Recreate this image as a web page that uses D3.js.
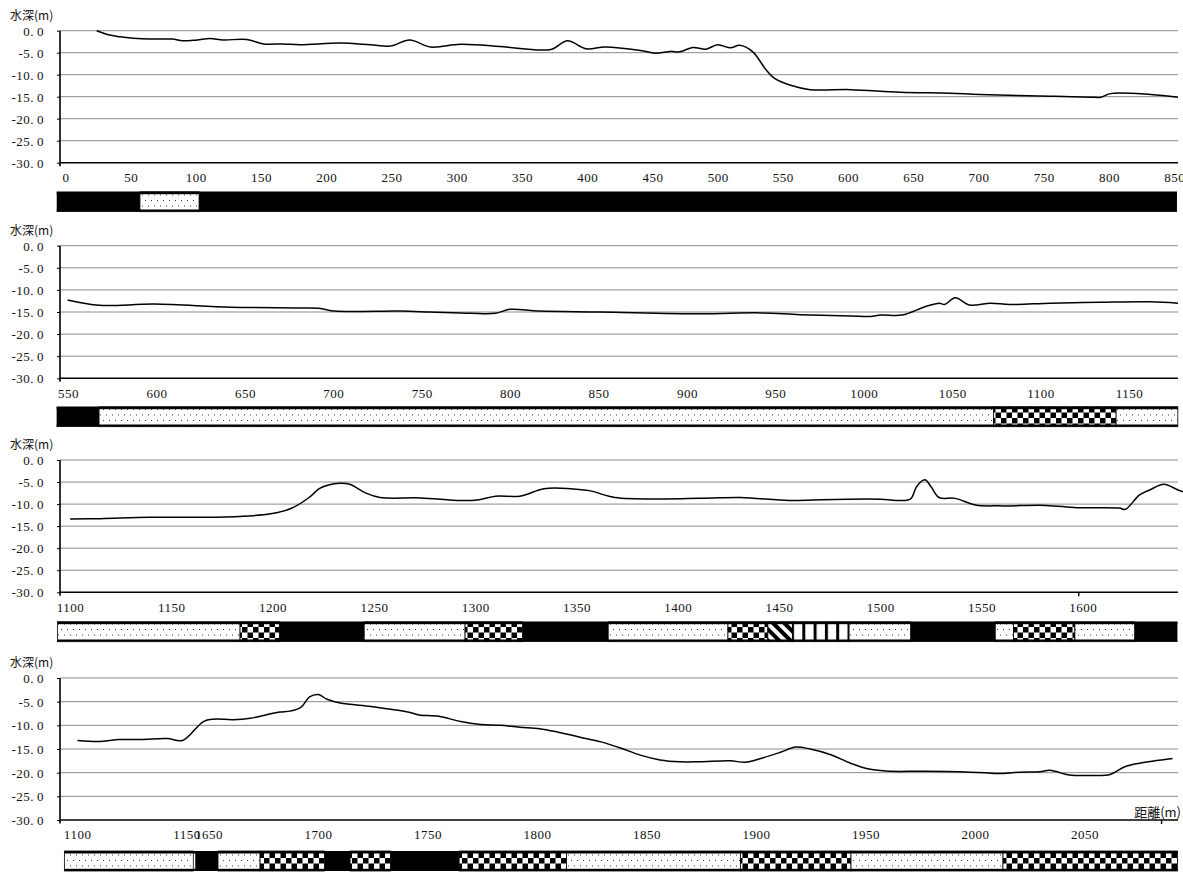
<!DOCTYPE html>
<html><head><meta charset="utf-8">
<script src="https://cdn.jsdelivr.net/npm/d3@7"></script>
<style>
body{margin:0;background:#fff}
svg{display:block}
.num{font-family:"Liberation Serif","Times New Roman",serif;font-size:13px;letter-spacing:0.5px;fill:#111}
.cjk{font-family:"Noto Sans CJK JP",sans-serif;font-size:12px;fill:#111}
</style>
</head><body>
<svg id="c" width="1183" height="872"></svg>
<script>
// ---------- data ----------
const yTicks = [0, -5, -10, -15, -20, -25, -30];
const yTickLabels = ["0.0", "-5.0", "-10.0", "-15.0", "-20.0", "-25.0", "-30.0"];
const yTitle = "水深(m)";
const xTitle = "距離(m)";

const p1Ticks = [0,50,100,150,200,250,300,350,400,450,500,550,600,650,700,750,800,850];
const p2Ticks = [550,600,650,700,750,800,850,900,950,1000,1050,1100,1150];
const p3Ticks = [1100,1150,1200,1250,1300,1350,1400,1450,1500,1550,1600];
const p4Ticks = [1100,1150,1650,1700,1750,1800,1850,1900,1950,2000,2050];

const p1Dist  = [27,37,45,55,68,85,93,104,114,124,142,155,170,183,214,237,252,267,283,306,336,367,376,388,402,417,444,455,467,474,484,494,503,513,520,530,540,547,559,574,605,643,681,704,758,789,797,804,835,856];
const p1Depth = [0,-1.0,-1.4,-1.7,-1.9,-1.9,-2.3,-2.1,-1.8,-2.1,-2.0,-3.0,-3.0,-3.2,-2.8,-3.2,-3.5,-2.1,-3.7,-3.1,-3.6,-4.4,-4.2,-2.3,-4.1,-3.7,-4.5,-5.1,-4.7,-4.8,-3.8,-4.2,-3.2,-3.9,-3.3,-4.8,-8.8,-10.9,-12.4,-13.4,-13.4,-14.0,-14.2,-14.5,-14.9,-15.1,-15.1,-14.3,-14.5,-15.1];

const p2Dist  = [552,570,601,644,683,695,703,740,757,780,794,802,819,853,910,944,966,995,1006,1012,1024,1037,1045,1048,1054,1062,1074,1085,1108,1136,1164,1180];
const p2Depth = [-12.3,-13.5,-13.2,-13.9,-14.1,-14.2,-14.8,-14.8,-15.0,-15.3,-15.3,-14.4,-14.8,-15.0,-15.4,-15.2,-15.6,-15.9,-16.0,-15.7,-15.7,-13.8,-13.0,-13.3,-11.8,-13.4,-13.0,-13.3,-13.0,-12.8,-12.7,-13.0];

const p3Dist  = [1102,1117,1141,1166,1186,1201,1211,1220,1225,1230,1235,1240,1248,1255,1275,1295,1304,1312,1324,1336,1349,1359,1371,1413,1433,1457,1472,1502,1512,1517,1520,1524,1527,1531,1539,1549,1561,1584,1599,1620,1623,1630,1635,1642,1649,1651.5];
const p3Depth = [-13.4,-13.3,-13.0,-13.0,-12.8,-12.2,-11.0,-8.5,-6.5,-5.6,-5.3,-5.5,-7.5,-8.5,-8.6,-9.2,-9.0,-8.2,-8.2,-6.5,-6.5,-7.0,-8.5,-8.7,-8.5,-9.2,-9.0,-8.9,-9.2,-8.8,-6.0,-4.5,-6.0,-8.5,-8.7,-10.2,-10.4,-10.3,-10.8,-10.9,-11.2,-7.9,-6.8,-5.5,-6.8,-7.2];

const p4Dist  = [1102,1112,1121,1131,1143,1150,1649.5,1654,1663,1671,1678,1684.5,1689,1694,1698,1702,1706,1712,1726,1735,1744,1748,1757,1767,1776,1785,1794,1803,1812,1821.5,1831,1840,1849,1858,1867,1876,1890,1897,1904,1913,1920,1926.5,1936,1945,1954,1963,1977,1995,2009,2013,2022,2031.5,2036,2045,2054,2063.5,2070,2077,2092];
const p4Depth = [-13.2,-13.4,-13.0,-13.0,-12.8,-13.2,-9.2,-8.7,-8.8,-8.5,-7.8,-7.2,-7.0,-6.2,-4.0,-3.5,-4.5,-5.3,-6.0,-6.6,-7.3,-7.8,-8.1,-9.2,-9.8,-10.0,-10.4,-10.7,-11.5,-12.5,-13.5,-14.8,-16.3,-17.3,-17.7,-17.7,-17.5,-17.8,-17.0,-15.7,-14.6,-15.0,-16.2,-18.0,-19.3,-19.7,-19.7,-19.8,-20.1,-20.2,-19.9,-19.8,-19.5,-20.5,-20.6,-20.4,-18.8,-18.0,-17.0];

// soil strips: [start, end, type]
const p1Strip = [[-3.6,60.2,"black"],[60.2,105.5,"sand"],[105.5,855.2,"black"]];
const p2Strip = [[545.8,569.8,"black"],[569.8,1075.6,"sand"],[1075.6,1145,"check"],[1145,1179.9,"sand"]];
const p3Strip = [[1095.7,1185.9,"sand"],[1185.9,1205.3,"check"],[1205.3,1247.2,"black"],[1247.2,1297,"sand"],[1297,1325.3,"check"],[1325.3,1367.7,"black"],[1367.7,1426.8,"sand"],[1426.8,1446.5,"check"],[1446.5,1458.6,"diag"],[1458.6,1486.6,"vert"],[1486.6,1517,"sand"],[1517,1558.8,"black"],[1558.8,1567.8,"sand"],[1567.8,1598.1,"check"],[1598.1,1627.6,"sand"],[1627.6,1648.7,"black"]];
const p4Strip = [[1096,1154.9,"sand"],[1645.8,1656.2,"black"],[1656.2,1675.4,"sand"],[1675.4,1704.8,"check"],[1704.8,1716.5,"black"],[1716.5,1734.9,"check"],[1734.9,1766.3,"black"],[1766.3,1815.3,"check"],[1815.3,1894.7,"sand"],[1894.7,1945.2,"check"],[1945.2,2014.6,"sand"],[2014.6,2094.3,"check"]];

// ---------- drawing ----------
const svg = d3.select("#c");
const defs = svg.append("defs");

const pSand = defs.append("pattern").attr("id","sand").attr("patternUnits","userSpaceOnUse").attr("width",6).attr("height",11);
pSand.append("rect").attr("width",6).attr("height",11).attr("fill","#fff");
pSand.append("rect").attr("x",1).attr("y",2).attr("width",1).attr("height",1).attr("fill","#333");
pSand.append("rect").attr("x",4).attr("y",7.5).attr("width",1).attr("height",1).attr("fill","#333");

const pCheck = defs.append("pattern").attr("id","check").attr("patternUnits","userSpaceOnUse").attr("width",11).attr("height",11);
pCheck.append("rect").attr("width",11).attr("height",11).attr("fill","#fff");
pCheck.append("rect").attr("width",5.5).attr("height",5.5).attr("fill","#000");
pCheck.append("rect").attr("x",5.5).attr("y",5.5).attr("width",5.5).attr("height",5.5).attr("fill","#000");

const pDiag = defs.append("pattern").attr("id","diag").attr("patternUnits","userSpaceOnUse").attr("width",8).attr("height",8).attr("patternTransform","rotate(-45)");
pDiag.append("rect").attr("width",8).attr("height",8).attr("fill","#fff");
pDiag.append("rect").attr("width",4).attr("height",8).attr("fill","#000");

const pVert = defs.append("pattern").attr("id","vert").attr("patternUnits","userSpaceOnUse").attr("width",11.3).attr("height",10);
pVert.append("rect").attr("width",11.3).attr("height",10).attr("fill","#fff");
pVert.append("rect").attr("width",3).attr("height",10).attr("fill","#000");

const L = 60, R = 1178;

const panels = [
  {top:30.7, bottom:162.7, x:d3.scaleLinear().domain([-1.1,856]).range([L,R]), ticks:p1Ticks, dist:p1Dist, depth:p1Depth, strip:p1Strip, stripTop:191.7, axTick:null},
  {top:245.7, bottom:378.3, x:d3.scaleLinear().domain([547.7,1180]).range([L,R]), ticks:p2Ticks, dist:p2Dist, depth:p2Depth, strip:p2Strip, stripTop:406.7, axTick:null},
  {top:460, bottom:592.3, x:d3.scaleLinear().domain([1097,1649]).range([L,R]), ticks:p3Ticks, dist:p3Dist, depth:p3Depth, strip:p3Strip, stripTop:621.7, axTick:1600},
  {top:678, bottom:820, x:d3.scaleLinear().domain([1094,1155,1645,2094.5]).range([L,193.5,193.5,R]), ticks:p4Ticks, dist:p4Dist, depth:p4Depth, strip:p4Strip, stripTop:851, axTick:2087, xTitle:true}
];

// write "0.0" as "0." + gap + "0" (monospaced Mincho look)
function splitNum(sel, str) {
  const k = str.indexOf(".");
  sel.text(null);
  if (k < 0) { sel.text(str); return; }
  sel.append("tspan").text(str.slice(0,k+1));
  sel.append("tspan").attr("dx",3).text(str.slice(k+1));
}

panels.forEach((p,i) => {
  const g = svg.append("g");
  const y = d3.scaleLinear().domain([0,-30]).range([p.top,p.bottom]);

  g.append("text").attr("class","cjk").attr("x",10).attr("y",p.top-11).text(yTitle);

  g.selectAll(".grid").data(yTicks.slice(0,-1)).join("line")
    .attr("x1",L).attr("x2",R).attr("y1",d=>y(d)).attr("y2",d=>y(d))
    .attr("stroke","#8a8a8a").attr("stroke-width",1);

  const yAxis = d3.axisLeft(y).tickValues(yTicks).tickSize(3).tickFormat((d,j)=>yTickLabels[j]);
  const ya = g.append("g").attr("transform",`translate(${L},0)`).call(yAxis);
  ya.select(".domain").remove();
  ya.attr("font-family",null).attr("font-size",null);
  ya.selectAll(".tick line").attr("stroke","#000");
  ya.selectAll(".tick text").attr("class","num").attr("x",-16).attr("dy","0.35em")
    .each(function(d,j){ splitNum(d3.select(this), yTickLabels[j]); });

  g.append("line").attr("x1",L).attr("x2",R).attr("y1",p.bottom).attr("y2",p.bottom).attr("stroke","#000").attr("stroke-width",1.6);
  g.append("line").attr("x1",L).attr("x2",L).attr("y1",p.top).attr("y2",p.bottom+3.5).attr("stroke","#000").attr("stroke-width",1.6);
  if (p.axTick!==null) {
    g.append("line").attr("x1",p.x(p.axTick)).attr("x2",p.x(p.axTick)).attr("y1",p.bottom).attr("y2",p.bottom+4).attr("stroke","#000").attr("stroke-width",1.4);
  }

  const xAxis = d3.axisBottom(p.x).tickValues(p.ticks).tickSize(0).tickFormat(d3.format("d"));
  const xa = g.append("g").attr("transform",`translate(0,${p.bottom})`).call(xAxis);
  xa.select(".domain").remove();
  xa.attr("font-family",null).attr("font-size",null);
  xa.selectAll(".tick text").attr("class","num").attr("dx",4).attr("y",10).attr("dy","0.71em");

  const lineData = p.dist.map((d,j)=>[d,p.depth[j]]);
  g.append("path").datum(lineData)
    .attr("fill","none").attr("stroke","#000").attr("stroke-width",1.5)
    .attr("d", d3.line().x(d=>p.x(d[0])).y(d=>y(d[1])).curve(d3.curveCatmullRom.alpha(0.5)));

  if (p.xTitle) {
    g.append("text").attr("class","cjk").style("font-size","13px").attr("x",1181).attr("y",p.bottom-3).attr("text-anchor","end").text(xTitle);
  }

  const st = p.stripTop, sb = st+20;
  const sg = g.append("g");
  p.strip.forEach(s => {
    const x0 = p.x(s[0]), x1 = p.x(s[1]);
    if (s[2]==="black") {
      sg.append("rect").attr("x",x0).attr("y",st).attr("width",x1-x0).attr("height",sb-st).attr("fill","#000");
    } else {
      sg.append("rect").attr("x",x0).attr("y",st).attr("width",x1-x0).attr("height",sb-st).attr("fill",`url(#${s[2]})`)
        .attr("stroke","#000").attr("stroke-width",0.8);
    }
  });
  const sx0 = p.x(p.strip[0][0]), sx1 = p.x(p.strip[p.strip.length-1][1]);
  sg.append("rect").attr("x",sx0).attr("y",st).attr("width",sx1-sx0).attr("height",2.5).attr("fill","#000");
  sg.append("rect").attr("x",sx0).attr("y",sb-2.2).attr("width",sx1-sx0).attr("height",2.2).attr("fill","#000");
});
</script>
</body></html>
